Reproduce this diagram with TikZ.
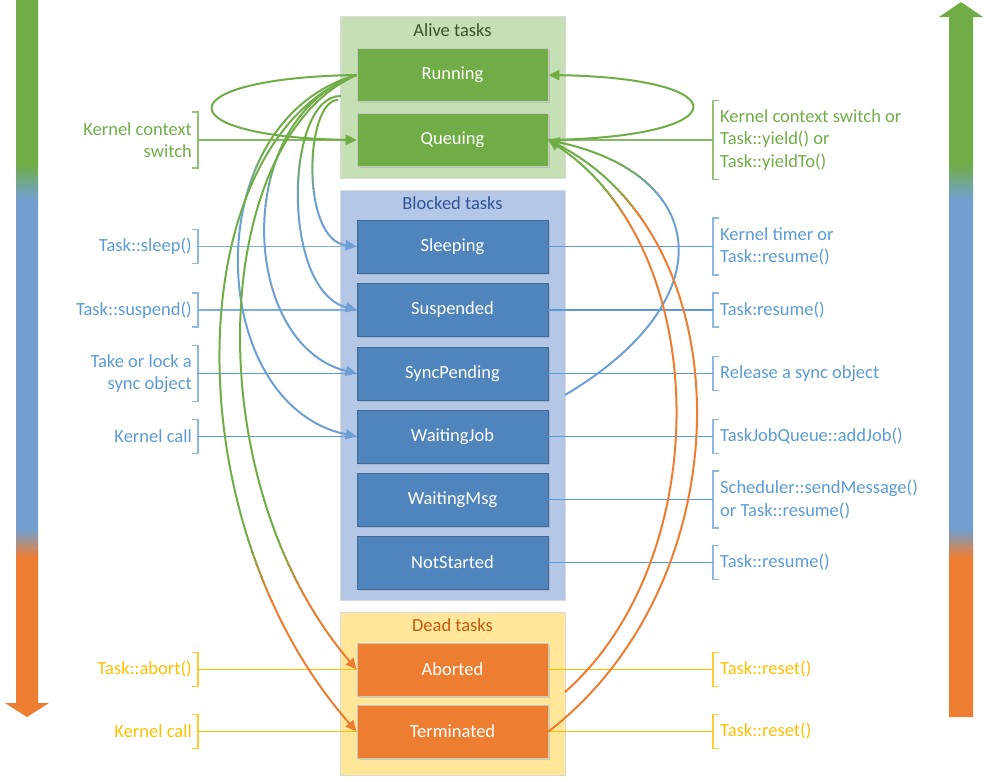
\documentclass[tikz,border=0pt]{standalone}
\usepackage{fontspec}
\setmainfont{Carlito}
\usetikzlibrary{arrows.meta,shadows}
\definecolor{cgreen}{HTML}{70AD47}
\definecolor{cblue}{HTML}{6C9FD3}
\definecolor{cbluet}{HTML}{5B9BD5}
\definecolor{abl}{HTML}{739FCF}
\definecolor{corange}{HTML}{ED7D31}
\definecolor{cyellow}{HTML}{FFC000}
\definecolor{boxblue}{HTML}{4F84BC}
\definecolor{bgalive}{HTML}{C5E0B4}
\definecolor{bgblock}{HTML}{B4C7E7}
\definecolor{bgdead}{HTML}{FFE699}
\definecolor{tgreen}{HTML}{3B5328}
\definecolor{tblue}{HTML}{2F5597}
\definecolor{torange}{HTML}{C55A11}

% path drawn with a vertical colour change: #1 options, #2 path, #3 top colour, #4 bottom colour, #5..#6 transition band
\newcommand\gradline[6]{%
  \begin{scope}\clip (-20,-20) rectangle (1010,#5+0.3); \draw[#1,draw=#3] #2; \end{scope}
  \foreach \gi in {1,...,10}{%
    \pgfmathsetmacro\gya{#5+(#6-#5)*(\gi-1)/10}%
    \pgfmathsetmacro\gyb{#5+(#6-#5)*\gi/10+0.3}%
    \pgfmathtruncatemacro\gpc{100-(\gi-0.5)*10}%
    \begin{scope}\clip (-20,\gya) rectangle (1010,\gyb); \draw[#1,draw=#3!\gpc!#4] #2; \end{scope}
  }%
  \begin{scope}\clip (-20,#6) rectangle (1010,800); \draw[#1,draw=#4] #2; \end{scope}
}
\newcommand\bandfill{%
  \fill[cgreen] (-20,-20) rectangle (1010,165.5);
  \foreach \gi in {1,...,12}{%
    \pgfmathsetmacro\gya{165+(\gi-1)*35/12}%
    \pgfmathsetmacro\gyb{165+\gi*35/12+0.5}%
    \pgfmathtruncatemacro\gpc{100-(\gi-0.5)*100/12}%
    \fill[cgreen!\gpc!abl] (-20,\gya) rectangle (1010,\gyb);
  }%
  \fill[abl] (-20,200) rectangle (1010,530.5);
  \foreach \gi in {1,...,12}{%
    \pgfmathsetmacro\gya{530+(\gi-1)*28/12}%
    \pgfmathsetmacro\gyb{530+\gi*28/12+0.5}%
    \pgfmathtruncatemacro\gpc{100-(\gi-0.5)*100/12}%
    \fill[abl!\gpc!corange] (-20,\gya) rectangle (1010,\gyb);
  }%
  \fill[corange] (-20,558) rectangle (1010,800);
}
% left label: name, y, half height, text colour, bracket colour, text
\newcommand\leftlabel[6]{%
  \node[lbl, align=right, text=#4, anchor=east] (#1) at (192,#2) {#6};
  \draw[brk, draw=#5] (192,#2-#3) -- (198,#2-#3) -- (198,#2+#3) -- (192,#2+#3);
  \coordinate (#1s) at (198,#2);
}
\newcommand\rightlabel[6]{%
  \node[lbl, align=left, text=#4, anchor=west] (#1) at (720,#2) {#6};
  \draw[brk, draw=#5] (719,#2-#3) -- (713,#2-#3) -- (713,#2+#3) -- (719,#2+#3);
  \coordinate (#1s) at (713,#2);
}
\begin{document}
\begin{tikzpicture}[x=1pt,y=-1pt,
  font=\fontsize{18.5}{22.6}\selectfont,
  lbl/.style={inner sep=0pt},
  brk/.style={line width=1.5pt},
  hl/.style={line width=1.3pt},
  crv/.style={line width=2pt},
  arr/.style={line width=2pt,-{Triangle[length=11pt,width=10pt]}},
  grp/.style={minimum width=225pt, inner sep=0pt, draw=black!14, line width=0.8pt,
    drop shadow={shadow xshift=1pt, shadow yshift=-1pt, opacity=.15}},
  sbox/.style={minimum width=191pt, minimum height=53pt, inner sep=0pt, text=white, line width=0.8pt,
    drop shadow={shadow xshift=1.5pt, shadow yshift=-1.5pt, opacity=.25}},
  gbox/.style={sbox, fill=cgreen, draw=black!22},
  bbox/.style={sbox, fill=boxblue, draw=boxblue!80!black},
  obox/.style={sbox, fill=corange, draw=black!22},
  ttl/.style={inner sep=0pt}
]
\useasboundingbox (0,0) rectangle (989,782);

% big side arrows
\begin{scope}
  \clip (16,0) -- (38,0) -- (38,703) -- (49,703) -- (27,717) -- (5,703) -- (16,703) -- cycle;
  \bandfill
\end{scope}
\begin{scope}
  \clip (949,717) -- (973,717) -- (973,17) -- (983,17) -- (961,2) -- (939,17) -- (949,17) -- cycle;
  \bandfill
\end{scope}

% groups
\node[grp, fill=bgalive, minimum height=162pt] (alive) at (452.5,97) {};
\node[grp, fill=bgblock, minimum height=410pt] (blocked) at (452.5,395) {};
\node[grp, fill=bgdead, minimum height=163pt] (dead) at (452.5,693.5) {};
\node[ttl, text=tgreen] (talive) at (452.5,30) {Alive tasks};
\node[ttl, text=tblue] (tblocked) at (452.5,203) {Blocked tasks};
\node[ttl, text=torange] (tdead) at (452.5,625) {Dead tasks};

% state boxes
\node[gbox] (run) at (452.5,75) {Running};
\node[gbox] (queue) at (452.5,140) {Queuing};
\node[bbox] (sleep) at (452.5,246.5) {Sleeping};
\node[bbox] (susp) at (452.5,310) {Suspended};
\node[bbox] (sync) at (452.5,373.5) {SyncPending};
\node[bbox] (wjob) at (452.5,436.5) {WaitingJob};
\node[bbox] (wmsg) at (452.5,499.5) {WaitingMsg};
\node[bbox] (nst) at (452.5,562.5) {NotStarted};
\node[obox] (abort) at (452.5,669.5) {Aborted};
\node[obox] (term) at (452.5,731.5) {Terminated};

% left labels
\leftlabel{lkcs}{140}{28}{cgreen}{cgreen!75}{Kernel context\\switch}
\leftlabel{lsleep}{246.5}{17}{cbluet}{cbluet!70}{Task::sleep()}
\leftlabel{lsusp}{310}{17}{cbluet}{cbluet!70}{Task::suspend()}
\leftlabel{lsync}{373.5}{28}{cbluet}{cbluet!70}{Take or lock a\\sync object}
\leftlabel{lkc}{436.5}{17}{cbluet}{cbluet!70}{Kernel call}
\leftlabel{labort}{669.5}{17}{cyellow}{cyellow!80}{Task::abort()}
\leftlabel{lkc2}{731.5}{17}{cyellow}{cyellow!80}{Kernel call}

% right labels
\rightlabel{rkcs}{140}{39.5}{cgreen}{cgreen!75}{Kernel context switch or\\Task::yield() or\\Task::yieldTo()}
\rightlabel{rtimer}{246.5}{28.5}{cbluet}{cbluet!70}{Kernel timer or\\Task::resume()}
\rightlabel{rres}{310}{17}{cbluet}{cbluet!70}{Task:resume()}
\rightlabel{rrel}{373.5}{17}{cbluet}{cbluet!70}{Release a sync object}
\rightlabel{rjob}{436.5}{17}{cbluet}{cbluet!70}{TaskJobQueue::addJob()}
\rightlabel{rmsg}{499.5}{28.5}{cbluet}{cbluet!70}{Scheduler::sendMessage()\\or Task::resume()}
\rightlabel{rres2}{562.5}{17}{cbluet}{cbluet!70}{Task::resume()}
\rightlabel{rreset}{669.5}{17}{cyellow}{cyellow!80}{Task::reset()}
\rightlabel{rreset2}{731.5}{17}{cyellow}{cyellow!80}{Task::reset()}

% horizontal connectors, left
\draw[hl, cgreen!85, -{Triangle[length=11pt,width=10pt]}] (lkcss) -- (queue.west);
\draw[hl, cbluet!80] (lsleeps) -- (sleep.west);
\draw[hl, cbluet!80] (lsusps) -- (susp.west);
\draw[hl, cbluet] (lsyncs) -- (sync.west);
\draw[hl, cbluet] (lkcs) -- (wjob.west);
\draw[hl, cyellow] (laborts) -- (abort.west);
\draw[hl, cyellow] (lkc2s) -- (term.west);
% horizontal connectors, right
\draw[hl, cgreen!85] (queue.east) -- (rkcss);
\draw[hl, cbluet] (sleep.east) -- (rtimers);
\draw[hl, cbluet] (susp.east) -- (rress);
\draw[hl, cbluet] (sync.east) -- (rrels);
\draw[hl, cbluet] (wjob.east) -- (rjobs);
\draw[hl, cbluet] (wmsg.east) -- (rmsgs);
\draw[hl, cbluet] (nst.east) -- (rres2s);
\draw[hl, cyellow] (abort.east) -- (rresets);
\draw[hl, cyellow] (term.east) -- (rreset2s);

% loops between Running and Queuing
\draw[arr, cgreen] (run.west) .. controls (165,78) and (165,137) .. (queue.west);
\draw[arr, cgreen] (queue.east) .. controls (740,137) and (740,78) .. (run.east);

% curves from Running to blocked states
\coordinate (hk1) at (338,100);
\coordinate (hk2) at (341,96);
\gradline{arr}{(hk1) .. controls (305,100) and (300,240) .. (sleep.west)}{cgreen}{cblue}{150}{205}
\gradline{arr}{(hk2) .. controls (285,95) and (280,290) .. (susp.west)}{cgreen}{cblue}{150}{205}
\gradline{arr}{(run.west) .. controls (230,120) and (240,345) .. (sync.west)}{cgreen}{cblue}{150}{205}
\gradline{arr}{(run.west) .. controls (195,120) and (205,405) .. (wjob.west)}{cgreen}{cblue}{150}{205}
% curves from Running to dead states
\gradline{arr}{(run.west) .. controls (210,140) and (195,480) .. (abort.west)}{cgreen}{corange}{540}{600}
\gradline{arr}{(run.west) .. controls (180,140) and (170,520) .. (term.west)}{cgreen}{corange}{540}{600}

% curves back to Queuing
\coordinate (bq) at (565,395);
\coordinate (aq) at (565,692);
\gradline{arr}{(bq) .. controls (725,300) and (710,175) .. (queue.east)}{cgreen}{cblue}{160}{200}
\gradline{arr}{(aq) .. controls (715,560) and (715,250) .. (queue.east)}{cgreen}{corange}{185}{218}
\gradline{arr}{(term.east) .. controls (745,580) and (745,240) .. (queue.east)}{cgreen}{corange}{185}{218}
\end{tikzpicture}
\end{document}
